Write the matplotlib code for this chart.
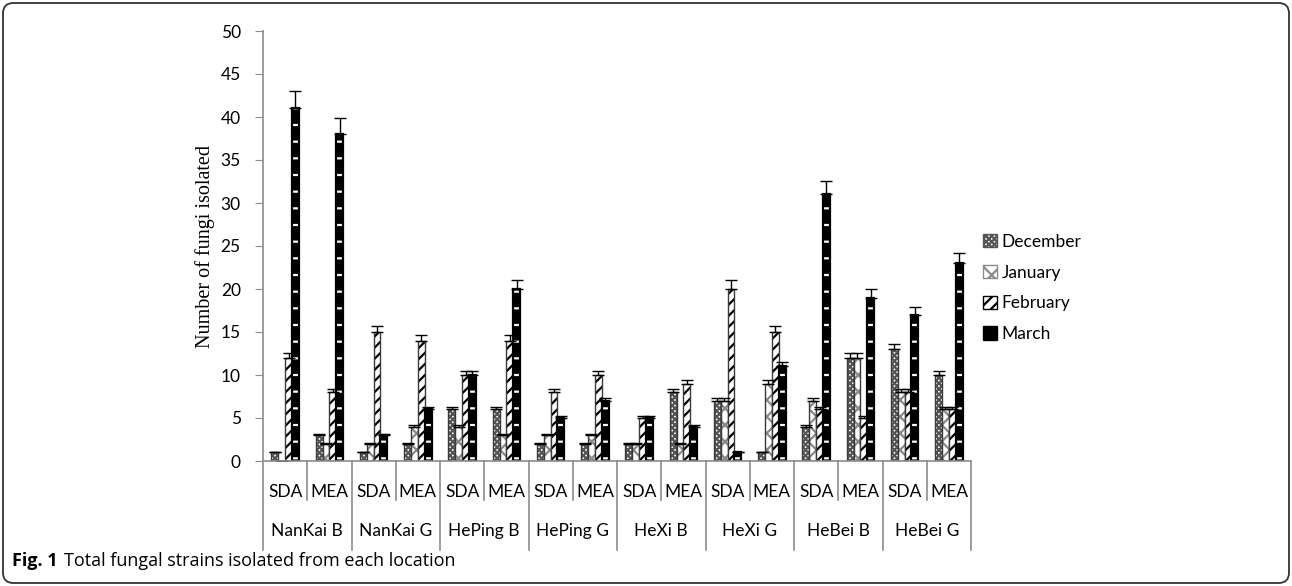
import numpy as np
import matplotlib
matplotlib.use("Agg")
import matplotlib.pyplot as plt
from matplotlib.patches import Patch, FancyBboxPatch
from matplotlib.lines import Line2D

# data
locations = ["NanKai B", "NanKai G", "HePing B", "HePing G",
             "HeXi B", "HeXi G", "HeBei B", "HeBei G"]
media = ["SDA", "MEA"]
months = ["December", "January", "February", "March"]

dec = [1, 3, 1, 2, 6, 6, 2, 2, 2, 8, 7, 1, 4, 12, 13, 10]
jan = [0, 2, 2, 4, 4, 3, 3, 3, 2, 2, 7, 9, 7, 12, 8, 6]
feb = [12, 8, 15, 14, 10, 14, 8, 10, 5, 9, 20, 15, 6, 5, 8, 6]
mar = [41, 38, 3, 6, 10, 20, 5, 7, 5, 4, 1, 11, 31, 19, 17, 23]

dec_err = [0.05, 0.15, 0.05, 0.1, 0.3, 0.3, 0.1, 0.1, 0.1, 0.4, 0.35, 0.05, 0.2, 0.6, 0.65, 0.5]
jan_err = [0, 0.1, 0.1, 0.2, 0.2, 0.15, 0.15, 0.15, 0.1, 0.1, 0.35, 0.45, 0.35, 0.6, 0.4, 0.3]
feb_err = [0.6, 0.4, 0.75, 0.7, 0.5, 0.7, 0.4, 0.5, 0.25, 0.45, 1.0, 0.75, 0.3, 0.25, 0.4, 0.3]
mar_err = [2.0, 1.9, 0.15, 0.3, 0.5, 1.0, 0.25, 0.35, 0.25, 0.2, 0.05, 0.55, 1.55, 0.95, 0.85, 1.15]

series = [dec, jan, feb, mar]
errors = [dec_err, jan_err, feb_err, mar_err]

# (face, hatch colour, hatch) per month
styles = [("white", "#555555", "xxxxxx"),
          ("white", "#8a8a8a", "xx"),
          ("white", "black", "///"),
          ("black", "white", "-")]

plt.rcParams["hatch.linewidth"] = 1.6
FONT = "Lato"

fig = plt.figure(figsize=(12.92, 5.86), dpi=100)
ax = fig.add_axes([263 / 1292, 1 - 461 / 586, (971 - 263) / 1292, (461 - 31) / 586])

x = np.arange(len(dec))
w = 0.155
for i, (vals, err) in enumerate(zip(series, errors)):
    face, hc, h = styles[i]
    pos = x + (i - 1.5) * w
    ax.bar(pos, vals, w, color=face, edgecolor=hc, hatch=h, linewidth=0)
    border = "black" if i == 3 else "#3a3a3a"
    ax.bar(pos, vals, w, fill=False, edgecolor=border, linewidth=1.6 if i == 3 else 1.0)
    ax.errorbar(pos, vals, yerr=[np.zeros(len(vals)), err], fmt="none",
                ecolor="black", elinewidth=1.0, capsize=4, capthick=1.0)

ax.set_xlim(-0.5, len(dec) - 0.5)
ax.set_ylim(0, 50)
ax.set_yticks(np.arange(0, 51, 5))
ax.set_xticks([])
for s in ["top", "right"]:
    ax.spines[s].set_visible(False)
for s in ["left", "bottom"]:
    ax.spines[s].set_color("#8c8c8c")
    ax.spines[s].set_linewidth(1.2)
ax.tick_params(axis="y", direction="out", length=6, color="#8c8c8c",
               labelsize=12.5, pad=10)
for lab in ax.get_yticklabels():
    lab.set_fontfamily(FONT)
ax.set_ylabel("Number of fungi isolated", fontsize=14.5,
              family="Liberation Serif", labelpad=4)

# two-level category axis
tr = ax.get_xaxis_transform()
for j in range(len(dec)):
    ax.text(j, -0.072, media[j % 2], transform=tr, ha="center", va="center",
            fontsize=12.5, family=FONT)
for k, loc in enumerate(locations):
    ax.text(2 * k + 0.5, -0.163, loc, transform=tr, ha="center", va="center",
            fontsize=12.5, family=FONT)
for j in range(len(dec) + 1):
    bottom = -0.207 if j % 2 == 0 else -0.09
    ax.add_line(Line2D([j - 0.5, j - 0.5], [0, bottom], transform=tr,
                       color="#8c8c8c", lw=1.2, clip_on=False))

# legend
handles = []
for i, m in enumerate(months):
    face, hc, h = styles[i]
    handles.append(Patch(facecolor=face, edgecolor=hc if i < 3 else "black",
                         hatch=h if i < 3 else None, label=m))
fig.legend(handles=handles, loc="center left", bbox_to_anchor=(0.749, 1 - 288 / 586),
           frameon=False, handlelength=0.8, handleheight=0.8, handletextpad=0.25,
           labelspacing=0.85, prop={"family": FONT, "size": 12.5})

# figure frame and caption
frame = FancyBboxPatch((3 / 1292, 3 / 586), 1286 / 1292, 580 / 586,
                       boxstyle="round,pad=0,rounding_size=0.008",
                       mutation_aspect=1292 / 586, transform=fig.transFigure,
                       fill=False, edgecolor="#333333", linewidth=1.3)
fig.patches.append(frame)
cap_y = 1 - 561 / 586
t1 = fig.text(12 / 1292, cap_y, "Fig. 1", fontsize=13, fontweight="bold",
              family="Open Sans", va="center")
fig.canvas.draw()
bb = t1.get_window_extent()
fig.text((bb.x1 + 6) / 1292, cap_y, "Total fungal strains isolated from each location",
         fontsize=13, family="Open Sans", va="center")

fig.savefig("out.png", dpi=100)
